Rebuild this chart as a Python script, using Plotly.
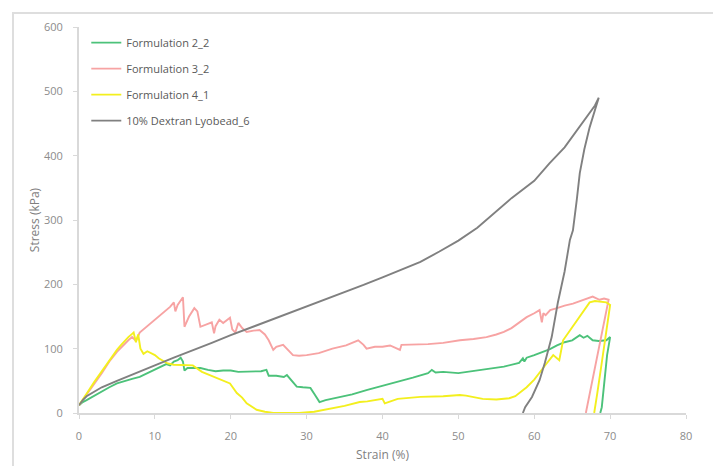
import plotly.graph_objects as go

# ---------------- data ----------------
dextran_x = [0, 0.5, 1, 2, 3, 5, 7, 10, 12.5, 15, 17.5, 20, 22.5, 25, 27.5, 30, 32.5, 35, 37.5, 40,
             42.5, 45, 47.5, 50, 52.5, 55, 57, 60, 62, 64, 65, 66, 67, 68, 68.5,
             68.2, 67.8, 67.3, 66.6, 66.0, 65.6, 65.1, 64.7, 64.0, 63.1, 62.3, 61.4, 60.7, 59.7, 58.8, 58.5]
dextran_y = [12, 20, 26, 33, 40, 50, 60, 74, 86, 97, 109, 121, 132, 143, 154, 165, 176, 188, 199, 211,
             223, 235, 251, 268, 288, 313, 334, 361, 388, 413, 429, 445, 462, 478, 490,
             478, 465, 444, 410, 373, 331, 284, 269, 220, 171, 118, 78, 51, 25, 9, 0]

f22_x = [0, 0.5, 1, 2, 3, 4, 5, 6, 7, 8, 9, 10, 11, 11.5, 12, 12.5, 13, 13.4, 13.7, 13.9, 14.3, 15, 16,
         17, 18, 19, 20, 21, 22, 23, 24, 24.7, 25, 26, 27, 27.4, 28, 28.7, 29.5, 30.5, 31, 31.7, 32.5,
         34, 36, 38, 40, 42, 44, 46, 46.5, 47, 48, 50, 52, 54, 56, 58, 58.5, 58.7, 59, 60, 61, 62, 63,
         64, 65, 66, 66.5, 67, 67.7, 68.5, 69.5, 70, 69.6, 69.2, 68.9, 68.7]
f22_y = [12, 17, 20, 27, 34, 40, 46, 50, 53, 56, 62, 67, 73, 76, 74, 80, 82, 86, 80, 66, 70, 70, 70,
         67, 65, 66, 66, 64, 64, 64, 65, 67, 58, 58, 56, 59, 50, 41, 40, 39, 30, 17, 20,
         24, 29, 36, 42, 48, 55, 62, 67, 63, 64, 62, 65, 68, 72, 78, 85, 80, 86, 90, 94, 99, 105,
         110, 113, 121, 117, 120, 113, 112, 113, 118, 90, 40, 9, 0]

f32_x = [0, 0.5, 1, 2, 3, 4, 5, 6, 6.5, 7, 7.5, 8, 9, 10, 11, 12, 12.5, 12.7, 13, 13.4, 13.7, 13.9,
         14.5, 15.2, 15.6, 16, 17, 17.5, 17.8, 18, 18.5, 19, 19.9, 20.2, 20.6, 21, 21.5, 22.1, 23,
         23.8, 24.5, 25, 25.6, 26, 26.9, 27.5, 28.2, 29, 30, 31.6, 33.4, 35.2, 36.8, 37.5, 37.9, 39,
         40, 41, 42.3, 42.5, 44, 46, 48, 50.2, 52, 53.7, 55, 56, 57, 58, 59, 60, 60.7, 61, 61.2, 61.5,
         62.1, 63, 64, 65.1, 66, 67, 67.7, 68.6, 69.2, 69.8, 69.2, 68.5, 67.8, 67.2, 66.8]
f32_y = [12, 20, 28, 45, 62, 80, 95, 108, 113, 118, 112, 125, 135, 145, 155, 165, 172, 158, 168, 176,
         180, 134, 150, 163, 158, 134, 138, 141, 124, 135, 145, 140, 148, 130, 125, 140, 132, 126, 128,
         129, 122, 113, 98, 103, 106, 98, 90, 89, 90, 93, 100, 105, 113, 106, 100, 103,
         103, 105, 98, 106, 106, 107, 109, 113, 115, 118, 122, 126, 132, 140, 149, 155, 160, 141, 155,
         152, 160, 163, 167, 170, 174, 178, 181, 176, 178, 176, 140, 100, 60, 20, 0]

f41_x = [0, 0.5, 1, 2, 3, 4, 5, 5.5, 6, 6.5, 7, 7.2, 7.5, 7.8, 8.1, 8.5, 9, 10, 10.5, 11, 11.7, 12.5,
         14, 15, 16.2, 17, 18, 18.8, 19.9, 20.8, 21.5, 22.1, 23.4, 24.5, 25.6, 27, 29, 31, 33.5, 35,
         37, 38, 40, 40.3, 42, 45, 48, 50.2, 51, 53.2, 55, 56.7, 57.5, 59, 60, 60.7, 61.5, 62.5, 63,
         63.3, 63.8, 64.5, 65.6, 66.5, 67.3, 68, 69.5, 70, 69.5, 68.8, 68.3, 67.9]
f41_y = [12, 22, 30, 48, 65, 82, 98, 105, 112, 118, 123, 125, 110, 122, 100, 92, 96, 90, 85, 82, 77, 75,
         75, 74, 64, 60, 55, 51, 46, 31, 24, 15, 5, 2, 0, 0, 0, 2, 8, 11,
         17, 18, 22, 15, 22, 25, 26, 28, 27, 22, 21, 23, 26, 40, 52, 62, 75, 90, 85,
         82, 113, 125, 144, 158, 172, 174, 172, 168, 130, 70, 30, 0]

series_names = ["Formulation 2_2", "Formulation 3_2", "Formulation 4_1", "10% Dextran Lyobead_6"]
x_ticks = [0, 10, 20, 30, 40, 50, 60, 70, 80]
y_ticks = [0, 100, 200, 300, 400, 500, 600]

# ---------------- figure ----------------
FONT = "Open Sans"
series = [
    (f22_x, f22_y, "#4cc27a"),
    (f32_x, f32_y, "#f7a3a3"),
    (f41_x, f41_y, "#f3ef1e"),
    (dextran_x, dextran_y, "#808080"),
]

fig = go.Figure()
for name, (xs, ys, col) in zip(series_names, series):
    fig.add_trace(go.Scatter(x=xs, y=ys, mode="lines", name=name, legendgroup=name,
                             line=dict(color=col, width=1.9)))

axis_common = dict(showgrid=False, zeroline=False, showline=True, linecolor="#d9d9d9", linewidth=2,
                   ticks="outside", ticklen=4, tickcolor="#d9d9d9", tickwidth=1, automargin=True,
                   tickfont=dict(family=FONT, size=11, color="#8c8c8c"))

# the page body has an 8px margin, so the figure is sized/positioned to compensate
fig.update_layout(
    width=713, height=458,
    margin=dict(l=71, r=35, t=19, b=53, autoexpand=False),
    paper_bgcolor="white", plot_bgcolor="white",
    font=dict(family=FONT, color="#7f7f7f"),
    showlegend=True,
    legend=dict(x=0.012, y=0.997, xanchor="left", yanchor="top",
                bgcolor="rgba(0,0,0,0)", tracegroupgap=7, traceorder="grouped",
                font=dict(family=FONT, size=11, color="#595959"), itemwidth=30),
    xaxis=dict(range=[0, 80], tickvals=x_ticks, ticklabelstandoff=8,
               title=dict(text="Strain (%)", font=dict(family=FONT, size=12, color="#7f7f7f"), standoff=8),
               **axis_common),
    yaxis=dict(range=[0, 600], tickvals=y_ticks, ticklabelstandoff=8,
               title=dict(text="Stress (kPa)", font=dict(family=FONT, size=12, color="#7f7f7f"), standoff=2),
               **axis_common),
    shapes=[dict(type="rect", xref="paper", yref="paper", x0=-0.1087, x1=1.049, y0=-0.16, y1=1.036,
                 line=dict(color="#dedede", width=2), fillcolor="rgba(0,0,0,0)", layer="below")],
)

fig.write_html("out.html")
